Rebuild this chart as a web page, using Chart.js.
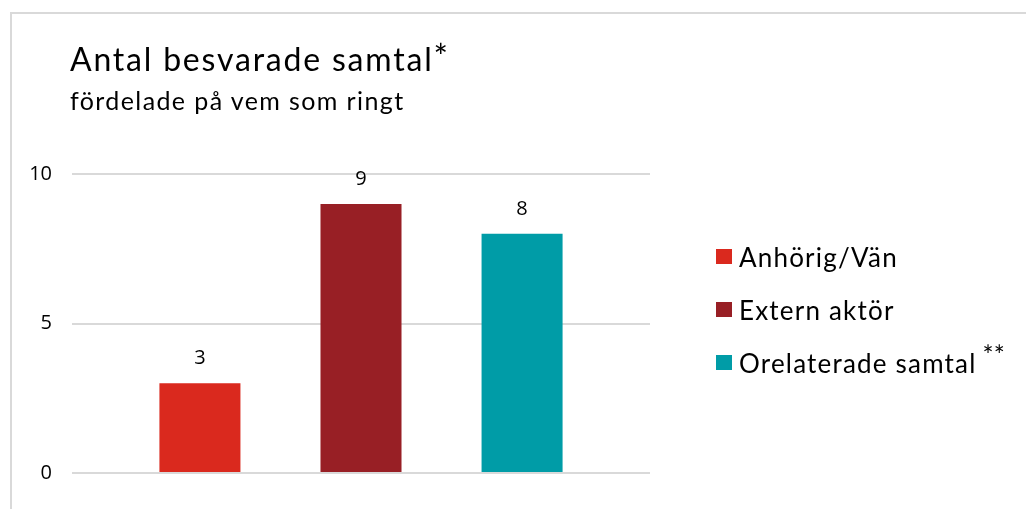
<!DOCTYPE html>
<html>
<head>
<meta charset="utf-8">
<script src="https://cdn.jsdelivr.net/npm/chart.js@4.4.1/dist/chart.umd.min.js"></script>
<style>
  body { margin: 0; background: #fff; }
  #wrap { position: relative; width: 1026px; height: 509px; overflow: hidden; }
  #frame { position: absolute; left: 10px; top: 12px; width: 1100px; height: 600px;
           border-top: 2px solid #d9d9d9; border-left: 2px solid #d9d9d9; }
  #chart { position: absolute; left: 0; top: 0; }
  .title { position: absolute; left: 70px; top: 42px; font-family: Lato, sans-serif;
           font-size: 32px; line-height: 32px; letter-spacing: 1.8px; color: #000; white-space: nowrap; }
  .title span { font-size: 34px; position: relative; top: -2px; }
  .subtitle { position: absolute; left: 70px; top: 88px; font-family: Lato, sans-serif;
              font-size: 25px; line-height: 25px; letter-spacing: 1.4px; color: #000; white-space: nowrap; }
  #legend { position: absolute; left: 716px; top: 230px; font-family: Lato, sans-serif;
            font-size: 26px; letter-spacing: 1.2px; color: #000; }
  .item { height: 53px; display: flex; align-items: center; white-space: nowrap; }
  .box { width: 16px; height: 15px; margin-right: 7px; }
  .item sup { font-size: 26px; margin-left: 6px; position: relative; top: -8px; letter-spacing: 0; }
</style>
</head>
<body>
<div id="wrap">
  <div id="frame"></div>
  <canvas id="chart" width="1026" height="509"></canvas>
  <div class="title">Antal besvarade samtal<span>*</span></div>
  <div class="subtitle">fördelade på vem som ringt</div>
  <div id="legend"></div>
</div>
<script>
// Chart data
const categories = [''];
const seriesNames = ['Anhörig/Vän', 'Extern aktör', 'Orelaterade samtal'];
const seriesValues = [3, 9, 8];
const seriesNotes = ['', '', '**'];
const yTicks = [0, 5, 10];

const seriesColors = ['#da291e', '#981f25', '#009ca7'];

// Value labels above each bar
const valueLabels = {
  id: 'valueLabels',
  afterDatasetsDraw(chart) {
    const ctx = chart.ctx;
    ctx.save();
    ctx.font = '20px "Open Sans", sans-serif';
    ctx.fillStyle = '#000';
    ctx.textAlign = 'center';
    ctx.textBaseline = 'middle';
    chart.data.datasets.forEach((ds, i) => {
      chart.getDatasetMeta(i).data.forEach((bar, j) => {
        ctx.fillText(ds.data[j], bar.x, bar.y - 25);
      });
    });
    ctx.restore();
  }
};

const ctx = document.getElementById('chart').getContext('2d');
new Chart(ctx, {
  type: 'bar',
  data: {
    labels: categories,
    datasets: seriesNames.map((name, i) => ({
      label: name,
      data: [seriesValues[i]],
      backgroundColor: seriesColors[i],
      borderWidth: 0,
      categoryPercentage: 0.836,
      barPercentage: 0.503
    }))
  },
  options: {
    responsive: false,
    animation: false,
    layout: { padding: { left: 12, right: 376, top: 174, bottom: 36 } },
    plugins: {
      legend: { display: false },
      tooltip: { enabled: false }
    },
    scales: {
      x: { display: false },
      y: {
        min: 0,
        max: 10,
        afterBuildTicks: scale => { scale.ticks = yTicks.map(v => ({ value: v })); },
        afterFit: scale => { scale.width = 60; },
        border: { display: false },
        grid: { color: '#d9d9d9', lineWidth: 2, drawTicks: false },
        ticks: {
          padding: 20,
          color: '#000',
          font: { family: '"Open Sans", sans-serif', size: 20 }
        }
      }
    }
  },
  plugins: [valueLabels]
});

// Legend on the right
const legend = document.getElementById('legend');
seriesNames.forEach((name, i) => {
  const item = document.createElement('div');
  item.className = 'item';
  const box = document.createElement('span');
  box.className = 'box';
  box.style.background = seriesColors[i];
  item.appendChild(box);
  item.appendChild(document.createTextNode(name));
  if (seriesNotes[i]) {
    const sup = document.createElement('sup');
    sup.textContent = seriesNotes[i];
    item.appendChild(sup);
  }
  legend.appendChild(item);
});
</script>
</body>
</html>
